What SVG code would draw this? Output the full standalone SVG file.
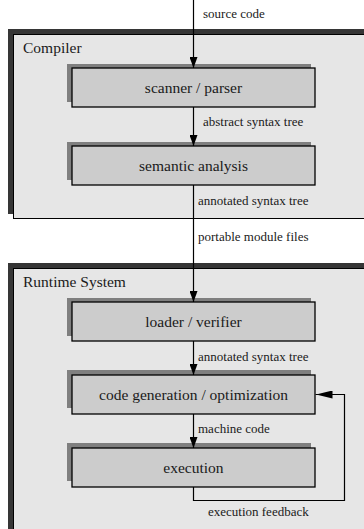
<svg xmlns="http://www.w3.org/2000/svg" width="364" height="529" viewBox="0 0 364 529">
  <style>
    .frame-shadow { fill: #363636; }
    .frame { fill: #e6e6e6; stroke: #000; stroke-width: 1; }
    .box-shadow { fill: #7f7f7f; }
    .box { fill: #cccccc; stroke: #000; stroke-width: 1.3; }
    text { font-family: 'Liberation Serif', 'Times New Roman', serif; fill: #1a1a1a; }
    .title { font-size: 15.5px; }
    .name { font-size: 15.5px; text-anchor: middle; }
    .label { font-size: 13px; }
    .wire { fill: none; stroke: #000; stroke-width: 1.2; }
  </style>
  <defs>
    <marker id="arrow" markerUnits="userSpaceOnUse" markerWidth="11" markerHeight="8" viewBox="0 0 11 8" refX="11" refY="4" orient="auto">
      <path d="M0,0 L11,4 L0,8 Z" fill="#000"/>
    </marker>
    <marker id="arrow-long" markerUnits="userSpaceOnUse" markerWidth="17" markerHeight="8" viewBox="0 0 17 8" refX="17" refY="4" orient="auto">
      <path d="M0,0 L17,4 L0,8 Z" fill="#000"/>
    </marker>
  </defs>
  <rect width="364" height="529" fill="#fff"/>

  <!-- Compiler frame -->
  <g id="compiler">
    <rect class="frame-shadow" x="8" y="29" width="360" height="185"/>
    <rect class="frame" x="13.5" y="34.5" width="360" height="184"/>
    <text class="title" x="23" y="53">Compiler</text>
  </g>

  <!-- Runtime frame -->
  <g id="runtime">
    <rect class="frame-shadow" x="8" y="263" width="360" height="280"/>
    <rect class="frame" x="13.5" y="268.5" width="360" height="280"/>
    <text class="title" x="23" y="287">Runtime System</text>
  </g>

  <g id="scanner">
    <rect class="box-shadow" x="67" y="64" width="244" height="38"/>
    <rect class="box" x="72" y="68" width="243" height="39"/>
    <text class="name" x="193.5" y="93">scanner / parser</text>
  </g>

  <g id="semantic">
    <rect class="box-shadow" x="67" y="142" width="244" height="38"/>
    <rect class="box" x="72" y="146" width="243" height="39"/>
    <text class="name" x="193.5" y="171">semantic analysis</text>
  </g>

  <g id="loader">
    <rect class="box-shadow" x="67" y="298" width="244" height="38"/>
    <rect class="box" x="72" y="302" width="243" height="39"/>
    <text class="name" x="193.5" y="327">loader / verifier</text>
  </g>

  <g id="codegen">
    <rect class="box-shadow" x="67" y="370" width="244" height="38"/>
    <rect class="box" x="72" y="375" width="243" height="39"/>
    <text class="name" x="193.5" y="400">code generation / optimization</text>
  </g>

  <g id="execution">
    <rect class="box-shadow" x="67" y="443" width="244" height="38"/>
    <rect class="box" x="72" y="448" width="243" height="39"/>
    <text class="name" x="193.5" y="473">execution</text>
  </g>

  <g id="connectors">
    <line class="wire" x1="193.5" y1="0" x2="193.5" y2="68" marker-end="url(#arrow)"/>
    <line class="wire" x1="193.5" y1="107" x2="193.5" y2="146" marker-end="url(#arrow)"/>
    <line class="wire" x1="193.5" y1="185" x2="193.5" y2="302" marker-end="url(#arrow)"/>
    <line class="wire" x1="193.5" y1="341" x2="193.5" y2="375" marker-end="url(#arrow)"/>
    <line class="wire" x1="193.5" y1="414" x2="193.5" y2="448" marker-end="url(#arrow)"/>
    <polyline class="wire" points="193.5,487 193.5,500.5 344.5,500.5 344.5,394.5 315.5,394.5" marker-end="url(#arrow-long)"/>
    <text class="label" x="203" y="18">source code</text>
    <text class="label" x="203" y="126">abstract syntax tree</text>
    <text class="label" x="198" y="205">annotated syntax tree</text>
    <text class="label" x="198" y="241">portable module files</text>
    <text class="label" x="198" y="361">annotated syntax tree</text>
    <text class="label" x="198" y="433">machine code</text>
    <text class="label" x="208" y="516">execution feedback</text>
  </g>
</svg>
